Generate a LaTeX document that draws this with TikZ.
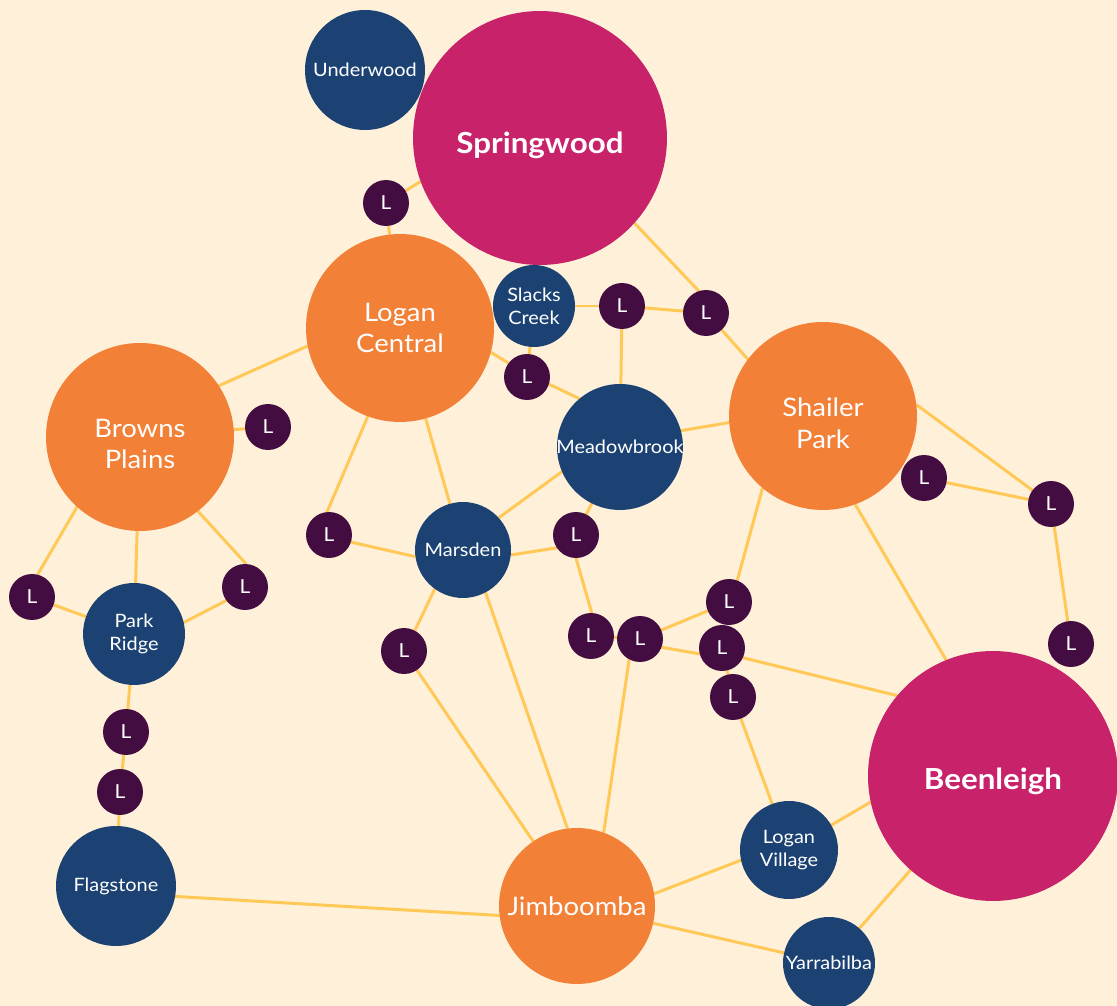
\documentclass[tikz,border=0pt]{standalone}
\usepackage{fontspec}
\setmainfont{Lato}[FakeStretch=1.08]
\definecolor{bgc}{HTML}{FFF1D9}
\definecolor{magc}{HTML}{C7226A}
\definecolor{orc}{HTML}{F28037}
\definecolor{bluc}{HTML}{1B4273}
\definecolor{purc}{HTML}{430D41}
\definecolor{linc}{HTML}{FFC857}
\pgfdeclarelayer{bgl}
\pgfdeclarelayer{edgel}
\pgfsetlayers{bgl,edgel,main}
\begin{document}
\begin{tikzpicture}[x=0.02cm,y=-0.02cm,
  disc/.style={circle,inner sep=0pt,outer sep=0pt,minimum size=#1},
  hubm/.style={disc=#1,fill=magc},
  hubo/.style={disc=#1,fill=orc},
  hubb/.style={disc=#1,fill=bluc},
  lib/.style={disc=0.92cm,fill=purc,text=white,font=\fontsize{11}{13}\selectfont},
  tmag/.style={text=white,font=\bfseries\fontsize{16.5}{19}\selectfont,align=center},
  torg/.style={text=white,font=\fontsize{14.5}{18}\selectfont,align=center},
  tblu/.style={text=white,font=\fontsize{10.5}{13}\selectfont,align=center},
  link/.style={draw=linc,line width=1.7pt}]
\useasboundingbox (0,0) rectangle (1117,1006);
\begin{pgfonlayer}{bgl}
\fill[bgc] (0,0) rectangle (1117,1006);
\end{pgfonlayer}

\node[hubm=5.08cm,label={[tmag,yshift=-0.14cm]center:Springwood}] (sp) at (540,138) {};
\node[hubb=2.4cm,label={[tblu]center:Underwood}] (uw) at (365,70) {};
\node[hubo=3.76cm,label={[torg]center:{Logan\\Central}}] (lc) at (400,328) {};
\node[hubb=1.64cm,label={[tblu]center:{Slacks\\Creek}}] (sc) at (534,306) {};
\node[hubb=2.52cm,label={[tblu]center:Meadowbrook}] (mb) at (620,447) {};
\node[hubo=3.76cm,label={[torg,yshift=-0.14cm]center:{Shailer\\Park}}] (shp) at (823,416) {};
\node[hubo=3.76cm,label={[torg,yshift=-0.14cm]center:{Browns\\Plains}}] (bp) at (140,437) {};
\node[hubb=2.04cm,label={[tblu]center:{Park\\Ridge}}] (pr) at (134,634) {};
\node[hubb=1.92cm,label={[tblu]center:Marsden}] (ma) at (463,550) {};
\node[hubb=2.4cm,label={[tblu]center:Flagstone}] (fl) at (116,886) {};
\node[hubo=3.12cm,label={[torg]center:Jimboomba}] (ji) at (577,906) {};
\node[hubb=1.96cm,label={[tblu]center:{Logan\\Village}}] (lv) at (789,850) {};
\node[hubb=1.84cm,label={[tblu]center:Yarrabilba}] (ya) at (829,963) {};
\node[hubm=5.0cm,label={[tmag,yshift=-0.1cm]center:Beenleigh}] (be) at (993,776) {};

\node[lib] (l1) at (386,203) {L};
\node[lib] (l2) at (268,427) {L};
\node[lib] (l3) at (527,377) {L};
\node[lib] (l4) at (622,306) {L};
\node[lib] (l5) at (706,313) {L};
\node[lib] (l6) at (329,535) {L};
\node[lib] (l7) at (576,535) {L};
\node[lib] (l8) at (404,651) {L};
\node[lib] (l9) at (591,636) {L};
\node[lib] (l10) at (640,639) {L};
\node[lib] (l11) at (729,602) {L};
\node[lib] (l12) at (722,648) {L};
\node[lib] (l13) at (733,697) {L};
\node[lib] (l14) at (924,478) {L};
\node[lib] (l15) at (1051,504) {L};
\node[lib] (l16) at (1071,644) {L};
\node[lib] (l17) at (32,597) {L};
\node[lib] (l18) at (245,587) {L};
\node[lib] (l19) at (126,732) {L};
\node[lib] (l20) at (120,792) {L};

\begin{pgfonlayer}{edgel}
\draw[link] (l1) -- (sp.200);
\draw[link] (l1) -- (lc);
\draw[link] (sp.318) -- (l5.108);
\draw[link] (l5.313) -- (shp.143);
\draw[link] (sc) -- (l4);
\draw[link] (l4) -- (l5);
\draw[link] (l4) -- (mb);
\draw[link] (sc) -- (l3);
\draw[link] (lc.345) -- (l3.143);
\draw[link] (l3.342) -- (mb.130);
\draw[link] (bp.33) -- (lc.191);
\draw[link] (bp) -- (l2);
\draw[link] (lc.250) -- (l6.95);
\draw[link] (lc) -- (ma);
\draw[link] (l6.342) -- (ma.188);
\draw[link] (ma.42) -- (mb.203);
\draw[link] (ma.354) -- (l7.214);
\draw[link] (l7) -- (mb);
\draw[link] (l7.270) -- (l9.88);
\draw[link] (ma.234) -- (l8.62);
\draw[link] (l8) -- (ji);
\draw[link] (ma.298) -- (ji.97);
\draw[link] (l9) -- (l10);
\draw[link] (l10.242) -- (ji.70);
\draw[link] (l10) -- (l11);
\draw[link] (l10.339) -- (l12.195);
\draw[link] (l12.335) -- (be.140);
\draw[link] (shp.230) -- (l11.69);
\draw[link] (l12) -- (l13);
\draw[link] (l13) -- (lv);
\draw[link] (lv) -- (be.192);
\draw[link] (ji.9) -- (lv.192);
\draw[link] (ji) -- (ya);
\draw[link] (ya) -- (be);
\draw[link] (fl.350) -- (ji.187);
\draw[link] (fl) -- (l20);
\draw[link] (l20) -- (l19);
\draw[link] (l19) -- (pr);
\draw[link] (pr) -- (l17);
\draw[link] (l17.76) -- (bp.228);
\draw[link] (pr) -- (bp);
\draw[link] (pr.13) -- (l18.216);
\draw[link] (bp.308) -- (l18.87);
\draw[link] (mb.15) -- (shp.184);
\draw[link] (shp.7) -- (l15);
\draw[link] (shp.290) -- (be.112);
\draw[link] (l14) -- (l15);
\draw[link] (l15) -- (l16);
\end{pgfonlayer}
\end{tikzpicture}
\end{document}
